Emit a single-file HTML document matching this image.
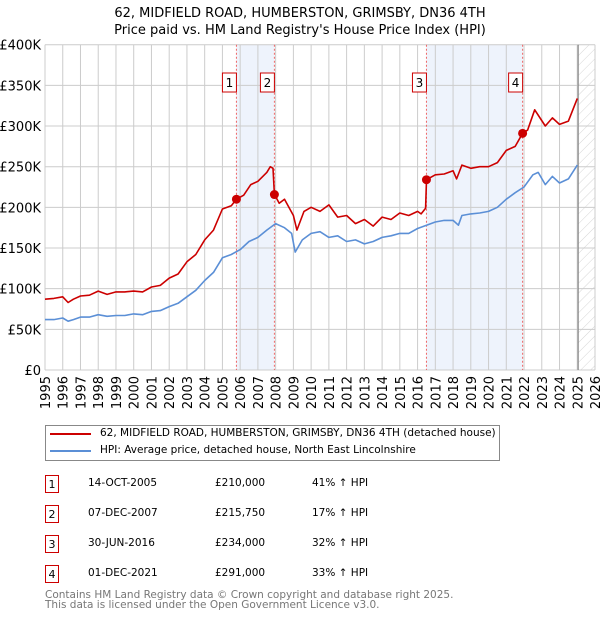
<!DOCTYPE html>
<html><head><meta charset="utf-8"><style>
body{margin:0;background:#fff;font-family:"DejaVu Sans","Liberation Sans",sans-serif;}
#wrap{position:relative;width:600px;height:620px;overflow:hidden}
.t{position:absolute;font-size:10.5px;color:#000;white-space:nowrap}
.box{position:absolute;width:14px;height:18px;border:1px solid #c00;font-size:11px;text-align:center;line-height:18px;box-sizing:border-box}
</style></head><body>
<div id="wrap">
<svg id="svg" width="600" height="420" style="position:absolute;left:0;top:0">
<text x="300" y="17" text-anchor="middle" font-size="13">62, MIDFIELD ROAD, HUMBERSTON, GRIMSBY, DN36 4TH</text>
<text x="300" y="34" text-anchor="middle" font-size="13">Price paid vs. HM Land Registry's House Price Index (HPI)</text>
</svg>
<div style="position:absolute;left:45px;top:425px;width:455px;height:36px;border:1px solid #888;box-sizing:border-box"></div>
<div style="position:absolute;left:50px;top:433px;width:41px;height:2px;background:#c00"></div>
<div class="t" style="left:100px;top:427px">62, MIDFIELD ROAD, HUMBERSTON, GRIMSBY, DN36 4TH (detached house)</div>
<div style="position:absolute;left:50px;top:450px;width:41px;height:2px;background:#5b8fd6"></div>
<div class="t" style="left:100px;top:444px">HPI: Average price, detached house, North East Lincolnshire</div>
<div id="tbl"></div>
<div class="t" style="left:45px;top:589px;color:#777">Contains HM Land Registry data © Crown copyright and database right 2025.</div>
<div class="t" style="left:45px;top:599px;color:#777">This data is licensed under the Open Government Licence v3.0.</div>
</div>
<script>
const hpiYears=[1995,1995.5,1996,1996.3,1996.6,1997,1997.5,1998,1998.5,1999,1999.5,2000,2000.5,2001,2001.5,2002,2002.5,2003,2003.5,2004,2004.5,2005,2005.5,2006,2006.5,2007,2007.5,2008,2008.5,2008.9,2009.1,2009.5,2010,2010.5,2011,2011.5,2012,2012.5,2013,2013.5,2014,2014.5,2015,2015.5,2016,2016.5,2017,2017.5,2018,2018.3,2018.5,2019,2019.5,2020,2020.5,2021,2021.5,2022,2022.5,2022.8,2023.2,2023.6,2024,2024.5,2025];
const hpiValues=[62,62,64,60,62,65,65,68,66,67,67,69,68,72,73,78,82,90,98,110,120,138,142,148,158,163,172,180,175,168,145,160,168,170,163,165,158,160,155,158,163,165,168,168,174,178,182,184,184,178,190,192,193,195,200,210,218,225,240,243,228,238,230,235,252];
const redYears=[1995,1995.5,1996,1996.3,1996.6,1997,1997.5,1998,1998.5,1999,1999.5,2000,2000.5,2001,2001.5,2002,2002.5,2003,2003.5,2004,2004.5,2005,2005.5,2005.79,2006.2,2006.6,2007,2007.5,2007.7,2007.85,2007.93,2008.2,2008.5,2009,2009.2,2009.6,2010,2010.5,2011,2011.5,2012,2012.5,2013,2013.5,2014,2014.5,2015,2015.5,2016,2016.2,2016.45,2016.5,2017,2017.5,2018,2018.2,2018.5,2019,2019.5,2020,2020.5,2021,2021.5,2021.92,2022.2,2022.6,2023.2,2023.6,2024,2024.5,2025];
const redValues=[87,88,90,83,87,91,92,97,93,96,96,97,96,102,104,113,118,133,142,160,172,198,202,210,215,228,232,243,250,248,216,205,210,190,172,195,200,195,203,188,190,180,185,177,188,185,193,190,195,192,199,234,240,241,245,235,252,248,250,250,255,270,275,291,295,320,300,310,302,306,334];
const saleLabels=["1","2","3","4"];
const saleYears=[2005.79,2007.93,2016.5,2021.92];
const saleValues=[210,215.75,234,291];
const saleDates=["14-OCT-2005","07-DEC-2007","30-JUN-2016","01-DEC-2021"];
const salePrices=["£210,000","£215,750","£234,000","£291,000"];
const saleHpi=["41% ↑ HPI","17% ↑ HPI","32% ↑ HPI","33% ↑ HPI"];
const yTicks=[0,50,100,150,200,250,300,350,400];
const yTickLabels=["£0","£50K","£100K","£150K","£200K","£250K","£300K","£350K","£400K"];
const xTicks=[1995,1996,1997,1998,1999,2000,2001,2002,2003,2004,2005,2006,2007,2008,2009,2010,2011,2012,2013,2014,2015,2016,2017,2018,2019,2020,2021,2022,2023,2024,2025,2026];

const X0=45,X1=595,Y0=370,Y1=44.7;
const xs=y=>X0+(y-1995)/31*(X1-X0);
const ys=v=>Y0-v/400*(Y0-Y1);
const svg=document.getElementById('svg');
const NS='http://www.w3.org/2000/svg';
function mk(tag,attrs){const e=document.createElementNS(NS,tag);for(const k in attrs)e.setAttribute(k,attrs[k]);svg.appendChild(e);return e;}
for(let i=0;i<saleYears.length;i+=2){
  const r=mk('rect',{x:xs(saleYears[i]),y:Y1,width:xs(saleYears[i+1])-xs(saleYears[i]),height:Y0-Y1,fill:'#eef3fc'});
  
  
}
yTicks.forEach((v,i)=>{
  const l=mk('line',{x1:X0,x2:X1,y1:ys(v),y2:ys(v),stroke:'#ccc','stroke-width':1});
  
  
  const t=mk('text',{x:X0-4,y:ys(v)+5,'text-anchor':'end','font-size':13});
  t.textContent=yTickLabels[i];
  
  
});
xTicks.forEach(yr=>{
  const l=mk('line',{x1:xs(yr),x2:xs(yr),y1:Y1,y2:Y0,stroke:'#ccc','stroke-width':1});
  
  
  const t=mk('text',{x:0,y:0,'text-anchor':'end','font-size':13,transform:`translate(${xs(yr)+5},${Y0+6}) rotate(-90)`});
  t.textContent=yr;
  
  
});
const defs=mk('defs',{});
defs.innerHTML='<pattern id="h" width="7" height="7" patternUnits="userSpaceOnUse" patternTransform="rotate(45)"><line x1="0" y1="0" x2="0" y2="7" stroke="#ccc" stroke-width="0.8"/></pattern>';
const hr=mk('rect',{x:xs(2025.05),y:Y1,width:X1-xs(2025.05),height:Y0-Y1,fill:'url(#h)'});


const vl=mk('line',{x1:xs(2025.05),x2:xs(2025.05),y1:Y1,y2:Y0,stroke:'#888','stroke-width':1.2});


saleYears.forEach((yr,i)=>{
  const l=mk('line',{x1:xs(yr),x2:xs(yr),y1:Y1,y2:Y0,stroke:'#e66','stroke-width':1,'stroke-dasharray':'2,2'});
  
  
  const b=mk('rect',{x:xs(yr)-14,y:73,width:14,height:19,fill:'#fff',stroke:'#c00','stroke-width':1});
  
  
  const t=mk('text',{x:xs(yr)-7,y:87,'text-anchor':'middle','font-size':12});
  t.textContent=saleLabels[i];
  
  
});
function path(yrs,vals,color,name){
  const d=yrs.map((y,i)=>(i?'L':'M')+xs(y).toFixed(1)+','+ys(vals[i]).toFixed(1)).join('');
  const p=mk('path',{d,fill:'none',stroke:color,'stroke-width':1.6,'stroke-linejoin':'round'});
  
  
}
path(hpiYears,hpiValues,'#5b8fd6','hpi-line');
path(redYears,redValues,'#cc0000','property-price-line');
saleYears.forEach((yr,i)=>{
  const c=mk('circle',{cx:xs(yr),cy:ys(saleValues[i]),r:4.5,fill:'#cc0000'});
  
  
});
const tbl=document.getElementById('tbl');
saleLabels.forEach((lab,i)=>{
  const top=475+i*30;
  const b=document.createElement('div');b.className='box';b.style.left='45px';b.style.top=top+'px';b.textContent=lab;
  
  
  tbl.appendChild(b);
  [[saleDates[i],88,'table-date'],[salePrices[i],215,'table-price'],[saleHpi[i],312,'table-hpi-change']].forEach(([txt,x,nm])=>{
    const d=document.createElement('div');d.className='t';d.style.left=x+'px';d.style.top=(top+2)+'px';d.textContent=txt;
    
    
    tbl.appendChild(d);
  });
});
</script>
</body></html>
